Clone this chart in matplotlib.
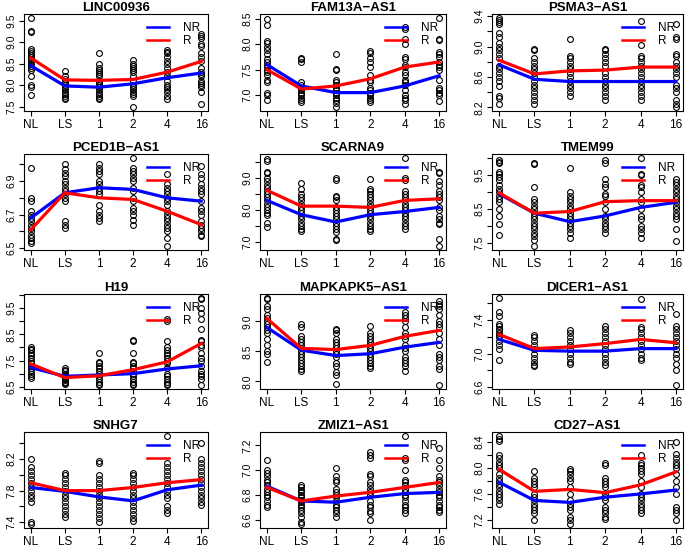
import numpy as np
import matplotlib
matplotlib.use('Agg')
import matplotlib.pyplot as plt
from matplotlib.lines import Line2D

plt.rcParams['font.family'] = ['Liberation Sans', 'DejaVu Sans']

groups = ['NL', 'LS', '1', '2', '4', '16']
genes = ['LINC00936', 'FAM13A\u2212AS1', 'PSMA3\u2212AS1',
         'PCED1B\u2212AS1', 'SCARNA9', 'TMEM99',
         'H19', 'MAPKAPK5\u2212AS1', 'DICER1\u2212AS1',
         'SNHG7', 'ZMIZ1\u2212AS1', 'CD27\u2212AS1']

# expression values per time point (points), and mean lines for NR / R
linc00936_pts = [
    [9.57, 9.25, 9.23, 8.85, 8.8, 8.75, 8.7, 8.65, 8.6, 8.55, 8.5, 8.45, 8.4, 8.35, 8.2, 8.0, 7.95, 7.78],
    [8.32, 8.2, 8.15, 8.1, 8.05, 8.0, 7.95, 7.9, 7.85, 7.8, 7.75, 7.7, 7.67],
    [8.75, 8.5, 8.4, 8.35, 8.3, 8.25, 8.2, 8.1, 8.05, 8.0, 7.95, 7.9, 7.85, 7.8, 7.75, 7.7, 7.67],
    [8.58, 8.5, 8.45, 8.4, 8.35, 8.3, 8.2, 8.1, 8.0, 7.95, 7.9, 7.85, 7.8, 7.75, 7.48],
    [8.82, 8.78, 8.75, 8.65, 8.55, 8.5, 8.4, 8.3, 8.2, 8.1, 8.0, 7.95, 7.9, 7.85, 7.75, 7.68],
    [9.18, 9.15, 9.1, 8.95, 8.92, 8.75, 8.65, 8.55, 8.4, 8.3, 8.25, 8.2, 8.1, 8.05, 8.0, 7.95, 7.85, 7.55]]
linc00936_nr = [8.45, 7.98, 7.95, 8.03, 8.17, 8.28]
linc00936_r = [8.63, 8.12, 8.11, 8.13, 8.30, 8.55]

fam13a_pts = [
    [8.5, 8.38, 8.07, 8.03, 7.95, 7.88, 7.8, 7.7, 7.65, 7.6, 7.55, 7.5, 7.45, 7.4, 7.3, 7.25, 7.05, 7.0, 6.9],
    [7.73, 7.7, 7.65, 7.25, 7.2, 7.15, 7.1, 7.05, 7.0, 6.95, 6.9, 6.87],
    [7.8, 7.52, 7.5, 7.3, 7.25, 7.2, 7.15, 7.1, 7.05, 7.0, 6.95, 6.9, 6.85, 6.76],
    [7.87, 7.83, 7.72, 7.65, 7.55, 7.4, 7.3, 7.25, 7.15, 7.1, 7.05, 7.0, 6.95, 6.9, 6.87],
    [8.33, 8.3, 8.1, 8.0, 7.75, 7.7, 7.6, 7.55, 7.45, 7.4, 7.3, 7.25, 7.2, 7.1, 7.0, 6.95, 6.9, 6.82],
    [8.52, 8.1, 8.08, 7.85, 7.8, 7.75, 7.65, 7.6, 7.55, 7.5, 7.3, 7.15, 7.1, 7.05, 7.0, 6.88]]
fam13a_nr = [7.6, 7.18, 7.05, 7.05, 7.18, 7.38]
fam13a_r = [7.5, 7.12, 7.18, 7.32, 7.55, 7.65]

psma3_pts = [
    [9.38, 9.35, 9.32, 9.3, 9.18, 9.12, 9.05, 9.0, 8.95, 8.9, 8.85, 8.75, 8.7, 8.65, 8.6, 8.55, 8.48, 8.35, 8.33, 8.25],
    [8.97, 8.95, 8.85, 8.8, 8.75, 8.7, 8.65, 8.6, 8.55, 8.5, 8.45, 8.4, 8.35, 8.3, 8.24],
    [9.1, 8.88, 8.85, 8.8, 8.75, 8.7, 8.65, 8.6, 8.55, 8.5, 8.45, 8.4, 8.35],
    [8.97, 8.95, 8.9, 8.85, 8.8, 8.75, 8.65, 8.6, 8.55, 8.5, 8.45, 8.4, 8.35, 8.3],
    [9.33, 9.02, 8.88, 8.85, 8.8, 8.75, 8.7, 8.65, 8.6, 8.55, 8.5, 8.45, 8.4, 8.35, 8.3],
    [9.3, 9.12, 9.1, 8.9, 8.88, 8.8, 8.75, 8.7, 8.65, 8.6, 8.5, 8.45, 8.4, 8.3, 8.25, 8.2]]
psma3_nr = [8.76, 8.57, 8.54, 8.54, 8.54, 8.54]
psma3_r = [8.82, 8.64, 8.68, 8.69, 8.73, 8.73]

pced1b_pts = [
    [6.98, 6.8, 6.78, 6.72, 6.7, 6.68, 6.66, 6.64, 6.62, 6.6, 6.58, 6.56, 6.54, 6.53],
    [7.0, 6.97, 6.95, 6.93, 6.9, 6.88, 6.86, 6.84, 6.82, 6.8, 6.78, 6.66, 6.64, 6.62],
    [7.0, 6.98, 6.96, 6.94, 6.9, 6.88, 6.86, 6.84, 6.82, 6.76, 6.72, 6.7, 6.68, 6.66],
    [7.04, 6.98, 6.96, 6.94, 6.92, 6.9, 6.86, 6.84, 6.8, 6.78, 6.74, 6.72, 6.7, 6.67, 6.64],
    [6.94, 6.88, 6.86, 6.84, 6.82, 6.8, 6.78, 6.76, 6.72, 6.7, 6.68, 6.66, 6.64, 6.62, 6.6, 6.56, 6.51],
    [6.99, 6.94, 6.92, 6.88, 6.86, 6.84, 6.82, 6.78, 6.74, 6.72, 6.7, 6.66, 6.64, 6.62, 6.6, 6.58, 6.57]]
pced1b_nr = [6.68, 6.83, 6.86, 6.85, 6.80, 6.78]
pced1b_r = [6.61, 6.83, 6.80, 6.79, 6.72, 6.64]

scarna9_pts = [
    [9.6, 9.55, 9.2, 9.15, 9.0, 8.9, 8.8, 8.7, 8.6, 8.5, 8.4, 8.3, 8.2, 8.1, 8.0, 7.9, 7.85, 7.6, 7.45],
    [8.85, 8.65, 8.5, 8.4, 8.3, 8.2, 8.1, 8.0, 7.9, 7.8, 7.7, 7.6, 7.5, 7.4, 7.35],
    [9.0, 8.95, 8.45, 8.4, 8.3, 8.1, 8.0, 7.9, 7.8, 7.7, 7.6, 7.5, 7.4, 7.3, 7.1, 7.05],
    [8.98, 8.65, 8.6, 8.5, 8.4, 8.3, 8.2, 8.1, 8.0, 7.9, 7.8, 7.7, 7.6, 7.5, 7.4, 7.35],
    [9.65, 9.0, 8.95, 8.6, 8.5, 8.4, 8.3, 8.2, 8.1, 8.0, 7.9, 7.8, 7.7, 7.6, 7.5, 7.4],
    [9.2, 9.15, 8.9, 8.8, 8.6, 8.5, 8.4, 8.3, 8.1, 8.0, 7.8, 7.7, 7.6, 7.55, 7.1, 6.85]]
scarna9_nr = [8.3, 7.85, 7.62, 7.85, 7.95, 8.08]
scarna9_r = [8.62, 8.12, 8.12, 8.08, 8.3, 8.35]

tmem99_pts = [
    [9.95, 9.9, 9.85, 9.6, 9.55, 9.45, 9.35, 9.2, 9.1, 9.0, 8.9, 8.8, 8.7, 8.5, 8.3, 8.05, 7.75],
    [9.85, 9.83, 9.15, 8.8, 8.7, 8.6, 8.5, 8.4, 8.3, 8.2, 8.1, 8.0, 7.9, 7.8, 7.7, 7.6, 7.4],
    [9.7, 9.0, 8.9, 8.8, 8.7, 8.6, 8.5, 8.4, 8.3, 8.2, 8.1, 8.0, 7.9, 7.8, 7.65],
    [9.95, 9.85, 9.4, 9.25, 9.15, 8.95, 8.9, 8.7, 8.5, 8.3, 8.2, 8.1, 8.0, 7.9, 7.8],
    [10.02, 9.55, 9.5, 9.2, 9.15, 9.0, 8.8, 8.7, 8.5, 8.3, 8.2, 8.0, 7.9, 7.8, 7.65],
    [9.4, 9.3, 9.2, 9.1, 9.0, 8.9, 8.8, 8.7, 8.6, 8.5, 8.4, 8.3, 8.2, 7.9, 7.55]]
tmem99_nr = [8.95, 8.38, 8.13, 8.3, 8.55, 8.7]
tmem99_r = [8.98, 8.38, 8.43, 8.72, 8.75, 8.75]

h19_pts = [
    [8.0, 7.95, 7.9, 7.8, 7.7, 7.6, 7.5, 7.4, 7.3, 7.2, 7.1, 7.0, 6.9, 6.85],
    [7.2, 7.15, 7.1, 7.0, 6.95, 6.9, 6.85, 6.8, 6.75, 6.7, 6.65, 6.6],
    [7.8, 7.45, 7.4, 7.3, 7.2, 7.1, 7.0, 6.9, 6.8, 6.7, 6.6, 6.55],
    [8.3, 8.25, 7.8, 7.45, 7.4, 7.3, 7.2, 7.1, 7.0, 6.9, 6.8, 6.7, 6.6, 6.55],
    [9.1, 9.0, 8.25, 8.0, 7.9, 7.8, 7.7, 7.6, 7.5, 7.4, 7.2, 7.0, 6.9, 6.8, 6.7, 6.6, 6.55],
    [9.9, 9.85, 9.5, 9.3, 9.1, 8.7, 8.3, 8.25, 8.1, 8.0, 7.8, 7.6, 7.5, 7.3, 7.1, 7.0, 6.9, 6.8, 6.55]]
h19_nr = [7.23, 6.9, 6.95, 7.0, 7.18, 7.3]
h19_r = [7.37, 6.85, 6.92, 7.15, 7.45, 8.15]

mapkapk5_pts = [
    [9.4, 9.38, 9.25, 9.2, 9.1, 9.05, 9.0, 8.95, 8.9, 8.85, 8.8, 8.7, 8.6, 8.5, 8.45, 8.33],
    [8.95, 8.9, 8.75, 8.7, 8.65, 8.6, 8.55, 8.5, 8.45, 8.4, 8.35, 8.3, 8.25, 8.2, 8.17],
    [8.88, 8.85, 8.8, 8.7, 8.65, 8.6, 8.55, 8.5, 8.45, 8.4, 8.3, 8.25, 8.15, 8.1, 7.96],
    [8.92, 8.8, 8.75, 8.7, 8.65, 8.6, 8.55, 8.5, 8.45, 8.4, 8.35, 8.3, 8.25, 8.22],
    [9.15, 9.1, 9.05, 9.0, 8.9, 8.8, 8.75, 8.7, 8.6, 8.55, 8.5, 8.4, 8.35, 8.3, 8.25, 8.18],
    [9.35, 9.3, 9.25, 9.2, 9.1, 9.0, 8.95, 8.9, 8.8, 8.7, 8.6, 8.45, 8.4, 8.35, 8.25, 8.2, 7.93]]
mapkapk5_nr = [8.9, 8.52, 8.43, 8.46, 8.57, 8.65]
mapkapk5_r = [9.05, 8.55, 8.53, 8.6, 8.75, 8.85]

dicer1_pts = [
    [7.67, 7.5, 7.45, 7.35, 7.33, 7.3, 7.28, 7.25, 7.22, 7.2, 7.15, 7.1, 7.05, 6.92],
    [7.22, 7.2, 7.15, 7.1, 7.05, 7.0, 6.95, 6.9, 6.87, 6.85],
    [7.28, 7.25, 7.2, 7.15, 7.1, 7.05, 7.0, 6.95, 6.9, 6.88],
    [7.33, 7.3, 7.25, 7.2, 7.15, 7.1, 7.05, 7.0, 6.95, 6.9, 6.87],
    [7.65, 7.32, 7.3, 7.25, 7.2, 7.15, 7.1, 7.05, 7.0, 6.95, 6.92],
    [7.47, 7.33, 7.3, 7.25, 7.2, 7.15, 7.1, 7.05, 7.0, 6.95, 6.88, 6.8, 6.62]]
dicer1_nr = [7.17, 7.04, 7.03, 7.03, 7.06, 7.06]
dicer1_r = [7.23, 7.06, 7.08, 7.12, 7.17, 7.13]

snhg7_pts = [
    [8.2, 8.1, 8.05, 8.0, 7.95, 7.9, 7.85, 7.8, 7.75, 7.7, 7.65, 7.4, 7.37],
    [8.03, 8.0, 7.95, 7.9, 7.85, 7.8, 7.75, 7.7, 7.65, 7.6, 7.55, 7.5, 7.47],
    [8.18, 8.15, 8.0, 7.95, 7.9, 7.85, 7.8, 7.75, 7.7, 7.65, 7.6, 7.55, 7.5, 7.45, 7.4],
    [8.03, 8.0, 7.95, 7.9, 7.85, 7.8, 7.75, 7.7, 7.65, 7.6, 7.55, 7.5, 7.45, 7.42],
    [8.5, 8.15, 8.1, 8.05, 8.0, 7.95, 7.9, 7.85, 7.8, 7.75, 7.7, 7.6, 7.55, 7.52],
    [8.4, 8.2, 8.15, 8.1, 8.05, 8.0, 7.95, 7.9, 7.85, 7.8, 7.75, 7.7, 7.65, 7.62]]
snhg7_nr = [7.84, 7.79, 7.72, 7.67, 7.81, 7.87]
snhg7_r = [7.9, 7.8, 7.8, 7.84, 7.9, 7.94]

zmiz1_pts = [
    [7.08, 7.0, 6.98, 6.95, 6.92, 6.9, 6.88, 6.85, 6.82, 6.8, 6.78, 6.75, 6.72, 6.7],
    [6.88, 6.86, 6.84, 6.82, 6.8, 6.78, 6.76, 6.74, 6.72, 6.7, 6.68, 6.65, 6.62, 6.58, 6.56],
    [7.02, 6.95, 6.92, 6.9, 6.85, 6.82, 6.8, 6.78, 6.75, 6.72, 6.7, 6.68, 6.65, 6.62],
    [7.15, 7.12, 7.1, 6.97, 6.95, 6.9, 6.88, 6.85, 6.82, 6.8, 6.75, 6.72, 6.7, 6.67, 6.65, 6.6],
    [7.28, 7.1, 7.08, 7.0, 6.92, 6.9, 6.88, 6.85, 6.82, 6.8, 6.78, 6.75, 6.72, 6.7, 6.68, 6.65],
    [7.18, 7.08, 7.02, 6.95, 6.92, 6.9, 6.88, 6.85, 6.82, 6.8, 6.78, 6.75, 6.72, 6.7, 6.68, 6.66]]
zmiz1_nr = [6.87, 6.75, 6.74, 6.78, 6.81, 6.82]
zmiz1_r = [6.86, 6.75, 6.79, 6.82, 6.86, 6.9]

cd27_pts = [
    [8.5, 8.45, 8.42, 8.2, 8.15, 8.1, 8.05, 8.0, 7.9, 7.85, 7.8, 7.75, 7.7, 7.65, 7.6, 7.55, 7.5, 7.45],
    [7.95, 7.85, 7.8, 7.75, 7.7, 7.6, 7.55, 7.5, 7.45, 7.4, 7.35, 7.3, 7.2],
    [7.98, 7.95, 7.9, 7.85, 7.8, 7.7, 7.6, 7.5, 7.45, 7.4, 7.35, 7.25, 7.2, 7.13],
    [8.08, 8.05, 7.85, 7.8, 7.75, 7.7, 7.6, 7.55, 7.5, 7.4, 7.35, 7.3, 7.25, 7.22],
    [8.2, 8.08, 8.05, 8.0, 7.95, 7.9, 7.8, 7.7, 7.6, 7.55, 7.5, 7.45, 7.4, 7.35, 7.3],
    [8.4, 8.22, 8.15, 8.1, 8.05, 8.0, 7.9, 7.8, 7.7, 7.6, 7.4, 7.35, 7.3, 7.2]]
cd27_nr = [7.78, 7.5, 7.47, 7.55, 7.6, 7.66]
cd27_r = [7.98, 7.64, 7.67, 7.62, 7.74, 7.94]

# y ticks (all ticks, then the ones that carry a label)
yticks = [
    [7.5, 8.0, 8.5, 9.0, 9.5], [7.0, 7.5, 8.0, 8.5], [8.2, 8.4, 8.6, 8.8, 9.0, 9.2, 9.4],
    [6.5, 6.6, 6.7, 6.8, 6.9, 7.0], [7.0, 7.5, 8.0, 8.5, 9.0, 9.5], [7.5, 8.0, 8.5, 9.0, 9.5, 10.0],
    [6.5, 7.0, 7.5, 8.0, 8.5, 9.0, 9.5, 10.0], [8.0, 8.5, 9.0], [6.6, 6.8, 7.0, 7.2, 7.4, 7.6],
    [7.4, 7.6, 7.8, 8.0, 8.2, 8.4], [6.6, 6.8, 7.0, 7.2], [7.2, 7.4, 7.6, 7.8, 8.0, 8.2, 8.4]]
ylabeled = [
    [7.5, 8.0, 8.5, 9.0, 9.5], [7.0, 7.5, 8.0, 8.5], [8.2, 8.6, 9.0, 9.4],
    [6.5, 6.7, 6.9], [7.0, 8.0, 9.0], [7.5, 8.5, 9.5],
    [6.5, 7.5, 8.5, 9.5], [8.0, 8.5, 9.0], [6.6, 7.0, 7.4],
    [7.4, 7.8, 8.2], [6.6, 6.8, 7.0, 7.2], [7.2, 7.6, 8.0, 8.4]]

all_pts = [linc00936_pts, fam13a_pts, psma3_pts, pced1b_pts, scarna9_pts, tmem99_pts,
           h19_pts, mapkapk5_pts, dicer1_pts, snhg7_pts, zmiz1_pts, cd27_pts]
all_nr = [linc00936_nr, fam13a_nr, psma3_nr, pced1b_nr, scarna9_nr, tmem99_nr,
          h19_nr, mapkapk5_nr, dicer1_nr, snhg7_nr, zmiz1_nr, cd27_nr]
all_r = [linc00936_r, fam13a_r, psma3_r, pced1b_r, scarna9_r, tmem99_r,
         h19_r, mapkapk5_r, dicer1_r, snhg7_r, zmiz1_r, cd27_r]

W, H = 685, 548
fig = plt.figure(figsize=(W / 100, H / 100), dpi=100)

col_lr = [(24, 208), (260, 446), (492, 683)]
row_tb = [(14, 111), (154, 250), (294, 389), (432, 528)]

# legend handles drawn a bit thinner than the plotted lines (like R's legend)
handles = [Line2D([], [], color='blue', lw=1.8), Line2D([], [], color='red', lw=1.8)]

x = np.arange(1, 7)
for i in range(12):
    r, c = divmod(i, 3)
    l, rr = col_lr[c]
    t, b = row_tb[r]
    ax = fig.add_axes([l / W, 1 - b / H, (rr - l) / W, (b - t) / H])

    pts = all_pts[i]
    for k in range(6):
        ax.plot([x[k]] * len(pts[k]), pts[k], 'o', mfc='none', mec='black',
                ms=4.2, mew=0.8, zorder=2)
    ax.plot(x, all_nr[i], color='blue', lw=2.3, zorder=3)
    ax.plot(x, all_r[i], color='red', lw=2.3, zorder=4)

    vals = np.concatenate([np.array(p) for p in pts])
    lo, hi = vals.min(), vals.max()
    pad = (hi - lo) * 0.04
    ax.set_ylim(lo - pad, hi + pad)
    ax.set_xlim(0.8, 6.2)

    ax.set_xticks(x)
    ax.set_xticklabels(groups, fontsize=8.5)
    ax.set_yticks(yticks[i])
    ax.set_yticklabels([f'{v:.1f}' if v in ylabeled[i] else '' for v in yticks[i]],
                       fontsize=7.5, rotation=90, va='center')
    ax.tick_params(direction='out', length=3.5, width=0.8, pad=2)
    ax.tick_params(axis='x', pad=2)
    for s in ax.spines.values():
        s.set_linewidth(0.8)

    ax.set_title(genes[i], fontsize=9.5, fontweight='bold', pad=2.5)
    ax.legend(handles, ['NR', 'R'], loc='upper right', frameon=False, fontsize=8.5,
              handlelength=1.9, borderaxespad=0.25, labelspacing=0.15,
              handletextpad=1.2)

fig.savefig('out.png', dpi=100)
